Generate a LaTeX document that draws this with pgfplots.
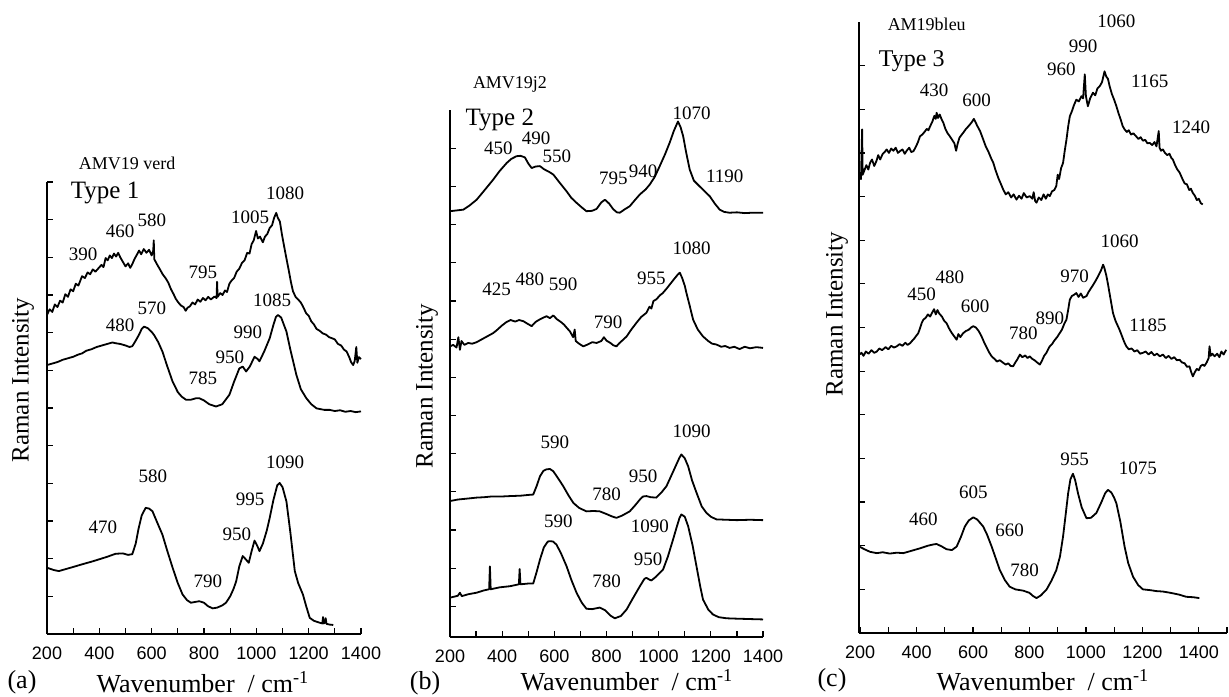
\documentclass[border=0pt]{standalone}
\usepackage{pgfplots}
\pgfplotsset{compat=1.18}
\usepackage{fontspec}
\setmainfont{Liberation Serif}
\setsansfont{Liberation Sans}

\newcommand{\pk}{\fontsize{9.5}{10}\selectfont}
\pgfplotsset{
  raman/.style={
    scale only axis, anchor=south west, clip=false,
    axis x line*=bottom, axis y line*=left,
    tick align=inside,
    xtick={200,400,...,1400}, minor xtick={300,500,...,1300},
    ytick={1,...,13}, yticklabels={},
    major tick length=3pt, minor tick length=3pt,
    tick style={line width=0.6pt, black},
    axis line style={line width=0.8pt},
    xticklabel style={font=\fontsize{9}{9}\selectfont\sffamily, yshift=-3pt},
    /pgf/number format/assume math mode=true,
    /pgf/number format/1000 sep={},
    cycle list={{black, no markers}},
    every axis plot post/.append style={line width=0.9pt, line join=round},
  }
}

\begin{document}
\begin{tikzpicture}
\useasboundingbox (0,0) rectangle (614.5pt,348pt);

% ---------------- (a) ----------------
\begin{axis}[raman, at={(23.5pt,31pt)}, width=157pt, height=226pt,
  xmin=200, xmax=1400, ymin=0, ymax=12]
\addplot coordinates {(200,8.47) (210,8.62) (220,8.55) (230,8.75) (240,8.68) (250,8.85) (260,8.80) (270,9.02) (280,8.95) (290,9.15) (300,9.10) (310,9.30) (320,9.25) (334,9.50) (345,9.45) (355,9.60) (365,9.55) (375,9.68) (385,9.62) (398,9.72) (408,9.80) (416,9.74) (424,9.98) (432,9.92) (440,10.05) (448,9.98) (456,10.10) (464,10.02) (472,10.12) (480,10.0) (490,9.88) (500,9.76) (510,9.84) (518,9.72) (526,9.82) (534,9.95) (542,10.05) (552,10.18) (560,10.08) (570,10.22) (580,10.12) (590,10.20) (600,10.05) (606,10.18) (608,10.45) (610,9.95) (620,9.82) (630,9.70) (642,9.55) (654,9.44) (664,9.32) (674,9.15) (684,9.02) (692,8.90) (702,8.80) (712,8.72) (722,8.68) (730,8.58) (737,8.66) (746,8.70) (756,8.80) (766,8.75) (776,8.88) (786,8.82) (796,8.92) (806,8.86) (816,8.95) (826,8.88) (840,8.96) (848,8.92) (850,9.35) (852,8.95) (862,9.05) (871,9.00) (880,9.12) (888,9.08) (897,9.30) (905,9.38) (915,9.45) (925,9.62) (935,9.70) (945,9.85) (955,9.92) (965,10.12) (974,10.10) (982,10.35) (990,10.45) (999,10.70) (1006,10.50) (1014,10.55) (1025,10.40) (1033,10.55) (1042,10.62) (1051,10.78) (1060,10.85) (1068,11.05) (1076,11.18) (1082,11.05) (1090,10.95) (1098,10.60) (1106,10.30) (1115,9.97) (1124,9.65) (1132,9.35) (1140,9.10) (1150,8.95) (1160,8.88) (1170,8.80) (1178,8.70) (1190,8.52) (1200,8.45) (1210,8.30) (1220,8.22) (1230,8.10) (1242,8.05) (1254,7.98) (1266,7.95) (1278,7.88) (1290,7.85) (1300,7.82) (1312,7.70) (1324,7.66) (1335,7.55) (1345,7.50) (1355,7.35) (1362,7.22) (1370,7.14) (1376,7.25) (1382,7.62) (1386,7.20) (1392,7.35) (1400,7.30)};
\addplot coordinates {(200,7.14) (220,7.18) (240,7.22) (260,7.28) (280,7.32) (300,7.36) (320,7.42) (334,7.45) (350,7.52) (370,7.56) (390,7.62) (410,7.66) (430,7.70) (450,7.74) (462,7.72) (480,7.70) (500,7.66) (515,7.62) (526,7.64) (540,7.80) (552,7.95) (562,8.10) (571,8.16) (585,8.12) (600,8.02) (609,7.94) (625,7.75) (641,7.50) (660,7.10) (680,6.70) (700,6.42) (715,6.30) (731,6.22) (750,6.22) (770,6.26) (782,6.26) (800,6.20) (820,6.10) (846,6.04) (870,6.10) (897,6.35) (915,6.70) (935,7.05) (948,7.10) (961,6.97) (975,7.10) (993,7.36) (1005,7.30) (1012,7.24) (1030,7.50) (1051,7.85) (1065,8.20) (1075,8.42) (1083,8.47) (1095,8.40) (1115,8.03) (1130,7.55) (1153,6.88) (1170,6.50) (1191,6.26) (1210,6.10) (1230,5.99) (1260,5.95) (1280,5.95) (1300,5.92) (1320,5.94) (1340,5.90) (1360,5.92) (1380,5.89) (1400,5.91)};
\addplot coordinates {(200,1.76) (225,1.70) (245,1.67) (270,1.72) (300,1.78) (334,1.85) (370,1.92) (398,1.98) (430,2.05) (462,2.13) (490,2.14) (510,2.10) (526,2.12) (539,2.40) (550,2.80) (562,3.15) (577,3.35) (590,3.33) (603,3.26) (620,2.98) (641,2.64) (660,2.20) (680,1.76) (700,1.35) (718,1.05) (735,0.90) (750,0.83) (765,0.85) (782,0.87) (800,0.83) (815,0.74) (833,0.68) (850,0.70) (870,0.76) (884,0.83) (900,1.00) (913,1.20) (923,1.40) (935,1.80) (948,2.07) (960,1.98) (971,1.89) (982,2.20) (993,2.48) (1003,2.35) (1012,2.20) (1025,2.40) (1040,2.75) (1051,3.08) (1065,3.55) (1080,3.95) (1089,4.01) (1100,3.90) (1115,3.52) (1130,2.70) (1147,1.67) (1160,1.35) (1178,1.05) (1190,0.75) (1204,0.43) (1220,0.35) (1242,0.30) (1252,0.28) (1255,0.45) (1258,0.28) (1262,0.30) (1265,0.42) (1268,0.27) (1280,0.25) (1294,0.24)};
\node[font=\fontsize{9}{9}\selectfont] at (axis cs:506,12.5) {AMV19 verd};
\node[font=\fontsize{12.5}{13}\selectfont] at (axis cs:422,11.7) {Type 1};
\node[font=\pk] at (axis cs:1110,11.7) {1080};
\node[font=\pk] at (axis cs:976,11.07) {1005};
\node[font=\pk] at (axis cs:338,10.07) {390};
\node[font=\pk] at (axis cs:479,10.7) {460};
\node[font=\pk] at (axis cs:601,10.99) {580};
\node[font=\pk] at (axis cs:796,9.59) {795};
\node[font=\pk] at (axis cs:1060,8.87) {1085};
\node[font=\pk] at (axis cs:601,8.64) {570};
\node[font=\pk] at (axis cs:479,8.19) {480};
\node[font=\pk] at (axis cs:968,8.0) {990};
\node[font=\pk] at (axis cs:899,7.34) {950};
\node[font=\pk] at (axis cs:796,6.78) {785};
\node[font=\pk] at (axis cs:1110,4.56) {1090};
\node[font=\pk] at (axis cs:605,4.19) {580};
\node[font=\pk] at (axis cs:976,3.58) {995};
\node[font=\pk] at (axis cs:414,2.83) {470};
\node[font=\pk] at (axis cs:926,2.65) {950};
\node[font=\pk] at (axis cs:815,1.40) {790};
\end{axis}

% ---------------- (b) ----------------
\begin{axis}[raman, at={(225pt,29.5pt)}, width=156.5pt, height=263.5pt,
  xmin=200, xmax=1400, ymin=0.2, ymax=14]
\addplot coordinates {(200,11.35) (225,11.37) (251,11.39) (275,11.50) (302,11.65) (330,11.88) (366,12.18) (390,12.40) (417,12.61) (435,12.72) (455,12.79) (470,12.80) (487,12.76) (500,12.60) (513,12.48) (528,12.52) (545,12.53) (560,12.45) (580,12.38) (596,12.31) (620,12.10) (647,11.87) (665,11.70) (685,11.57) (705,11.45) (723,11.35) (745,11.36) (762,11.41) (780,11.58) (794,11.65) (810,11.55) (826,11.40) (840,11.32) (851,11.31) (870,11.40) (889,11.48) (910,11.65) (928,11.79) (950,11.92) (966,12.05) (985,12.25) (1004,12.53) (1025,12.85) (1042,13.14) (1058,13.45) (1074,13.70) (1084,13.55) (1094,13.31) (1105,12.90) (1119,12.44) (1135,12.15) (1157,12.00) (1175,11.88) (1196,11.74) (1215,11.55) (1234,11.39) (1252,11.33) (1272,11.31) (1300,11.32) (1330,11.30) (1360,11.31) (1400,11.31)};
\addplot coordinates {(200,7.81) (212,7.85) (225,7.78) (232,8.05) (238,7.72) (244,7.95) (255,7.85) (270,7.90) (285,7.88) (302,7.92) (318,7.98) (334,8.04) (350,8.10) (366,8.16) (382,8.25) (398,8.35) (417,8.45) (432,8.50) (450,8.46) (465,8.50) (481,8.47) (498,8.40) (513,8.34) (528,8.45) (545,8.52) (557,8.56) (570,8.60) (583,8.55) (596,8.62) (610,8.52) (625,8.45) (637,8.38) (647,8.30) (660,8.20) (672,8.05) (678,8.25) (682,7.95) (695,7.88) (711,7.81) (728,7.86) (745,7.92) (762,7.90) (780,7.95) (790,8.05) (800,7.96) (815,7.90) (826,7.84) (838,7.81) (850,7.90) (863,7.98) (877,8.07) (895,8.25) (915,8.43) (933,8.58) (953,8.69) (965,8.85) (972,8.80) (980,9.00) (991,9.04) (1005,9.15) (1015,9.20) (1030,9.32) (1045,9.45) (1060,9.58) (1072,9.68) (1081,9.74) (1090,9.60) (1100,9.40) (1106,9.22) (1118,8.90) (1132,8.51) (1150,8.25) (1170,8.07) (1190,7.95) (1205,7.88) (1221,7.86) (1240,7.80) (1255,7.82) (1272,7.77) (1290,7.80) (1310,7.74) (1330,7.80) (1350,7.76) (1375,7.79) (1400,7.77)};
\addplot coordinates {(200,3.76) (230,3.80) (260,3.82) (302,3.85) (330,3.86) (360,3.88) (400,3.88) (430,3.89) (470,3.90) (500,3.92) (519,3.93) (532,4.15) (545,4.41) (558,4.55) (570,4.59) (583,4.60) (596,4.54) (615,4.35) (634,4.15) (655,3.90) (673,3.71) (695,3.58) (723,3.49) (750,3.50) (774,3.49) (800,3.42) (820,3.36) (838,3.32) (860,3.38) (889,3.49) (910,3.65) (928,3.80) (940,3.88) (953,3.89) (970,3.86) (991,3.85) (1010,3.98) (1030,4.15) (1050,4.45) (1068,4.72) (1080,4.90) (1087,4.98) (1100,4.88) (1113,4.67) (1128,4.30) (1145,3.98) (1165,3.62) (1183,3.45) (1200,3.35) (1221,3.28) (1260,3.27) (1300,3.26) (1350,3.27) (1400,3.26)};
\addplot coordinates {(200,1.23) (230,1.28) (238,1.36) (245,1.27) (270,1.32) (302,1.36) (330,1.42) (350,1.45) (353,2.05) (356,1.45) (390,1.50) (430,1.53) (464,1.58) (467,1.98) (470,1.58) (500,1.60) (519,1.60) (532,1.90) (545,2.23) (560,2.55) (575,2.70) (583,2.71) (595,2.70) (608,2.62) (625,2.40) (647,2.05) (665,1.70) (685,1.36) (705,1.10) (723,0.94) (745,0.93) (774,0.97) (795,0.90) (815,0.76) (832,0.69) (855,0.75) (877,0.92) (900,1.20) (928,1.53) (945,1.72) (953,1.75) (965,1.70) (972,1.68) (990,1.78) (1017,1.97) (1035,2.30) (1055,2.75) (1070,3.10) (1080,3.32) (1087,3.41) (1100,3.35) (1113,3.10) (1130,2.60) (1145,2.05) (1160,1.50) (1170,1.18) (1190,0.92) (1208,0.79) (1230,0.72) (1260,0.69) (1300,0.68) (1350,0.67) (1400,0.66)};
\node[font=\fontsize{9}{9}\selectfont] at (axis cs:430,14.66) {AMV19j2};
\node[font=\fontsize{12.5}{13}\selectfont] at (axis cs:391,13.75) {Type 2};
\node[font=\pk] at (axis cs:1126,13.92) {1070};
\node[font=\pk] at (axis cs:385,13.0) {450};
\node[font=\pk] at (axis cs:530,13.25) {490};
\node[font=\pk] at (axis cs:610,12.80) {550};
\node[font=\pk] at (axis cs:826,12.22) {795};
\node[font=\pk] at (axis cs:940,12.40) {940};
\node[font=\pk] at (axis cs:1253,12.26) {1190};
\node[font=\pk] at (axis cs:1126,10.39) {1080};
\node[font=\pk] at (axis cs:972,9.60) {955};
\node[font=\pk] at (axis cs:379,9.30) {425};
\node[font=\pk] at (axis cs:506,9.56) {480};
\node[font=\pk] at (axis cs:634,9.43) {590};
\node[font=\pk] at (axis cs:806,8.43) {790};
\node[font=\pk] at (axis cs:1126,5.59) {1090};
\node[font=\pk] at (axis cs:602,5.29) {590};
\node[font=\pk] at (axis cs:940,4.41) {950};
\node[font=\pk] at (axis cs:800,3.93) {780};
\node[font=\pk] at (axis cs:615,3.23) {590};
\node[font=\pk] at (axis cs:966,3.10) {1090};
\node[font=\pk] at (axis cs:960,2.23) {950};
\node[font=\pk] at (axis cs:800,1.66) {780};
\end{axis}

% ---------------- (c) ----------------
\begin{axis}[raman, at={(429.5pt,31.5pt)}, width=184pt, height=305.5pt,
  xmin=196, xmax=1500, ymin=0, ymax=14, minor xtick={300,500,...,1500}]
\addplot coordinates {(197,10.47) (203,10.40) (207,11.54) (209,10.50) (215,10.60) (222,10.72) (229,10.62) (235,10.77) (242,10.85) (250,10.70) (258,10.82) (264,10.95) (271,10.85) (280,10.98) (287,11.02) (294,11.08) (302,11.00) (310,11.10) (318,11.05) (326,11.12) (334,11.00) (341,11.04) (350,11.08) (358,10.98) (366,11.06) (374,11.12) (381,11.02) (389,11.04) (398,11.15) (405,11.25) (412,11.38) (420,11.42) (428,11.48) (436,11.55) (442,11.52) (448,11.61) (456,11.72) (463,11.85) (468,11.78) (471,11.92) (476,11.80) (482,11.88) (490,11.75) (495,11.69) (502,11.55) (510,11.45) (518,11.38) (526,11.30) (534,11.22) (540,11.05) (545,11.20) (552,11.35) (560,11.42) (565,11.46) (575,11.55) (585,11.62) (595,11.70) (603,11.78) (607,11.73) (615,11.62) (625,11.50) (636,11.31) (645,11.15) (655,11.02) (664,10.88) (672,10.77) (680,10.60) (690,10.42) (698,10.30) (707,10.16) (716,10.05) (725,10.10) (735,9.98) (744,10.05) (754,9.93) (763,10.02) (772,9.95) (780,10.08) (790,9.98) (801,10.01) (810,9.95) (815,10.10) (820,9.90) (825,9.86) (833,9.98) (842,9.92) (850,10.05) (858,9.95) (865,10.05) (872,10.01) (880,10.12) (888,10.15) (895,10.24) (900,10.50) (905,10.40) (912,10.65) (919,10.77) (925,11.05) (931,11.30) (937,11.60) (943,11.84) (950,11.95) (958,12.10) (966,12.22) (975,12.18) (984,12.30) (990,12.25) (996,12.80) (1000,12.30) (1007,12.07) (1015,12.25) (1025,12.38) (1033,12.32) (1041,12.48) (1049,12.53) (1057,12.62) (1066,12.87) (1072,12.75) (1078,12.70) (1084,12.53) (1092,12.35) (1100,12.22) (1108,12.07) (1116,11.90) (1124,11.75) (1130,11.62) (1137,11.54) (1145,11.48) (1152,11.52) (1160,11.42) (1168,11.45) (1178,11.38) (1186,11.32) (1194,11.36) (1202,11.28) (1210,11.30) (1218,11.22) (1226,11.23) (1235,11.18) (1243,11.25) (1250,11.15) (1258,11.50) (1261,11.12) (1266,11.05) (1273,11.08) (1280,11.00) (1288,10.95) (1296,10.98) (1303,10.88) (1308,10.85) (1316,10.72) (1324,10.62) (1332,10.55) (1343,10.39) (1350,10.30) (1358,10.28) (1366,10.15) (1372,10.18) (1379,10.08) (1386,10.02) (1393,9.92) (1400,9.95) (1407,9.85) (1414,9.82)};
\addplot coordinates {(197,6.38) (205,6.42) (212,6.35) (220,6.45) (230,6.40) (240,6.48) (250,6.42) (259,6.45) (268,6.52) (278,6.48) (290,6.55) (300,6.50) (310,6.58) (320,6.54) (330,6.57) (340,6.62) (350,6.58) (360,6.65) (368,6.60) (377,6.64) (385,6.70) (392,6.75) (400,6.82) (406,6.87) (413,7.00) (418,7.10) (424,7.18) (432,7.22) (440,7.30) (448,7.25) (456,7.35) (462,7.42) (468,7.30) (474,7.40) (480,7.32) (490,7.25) (498,7.15) (506,7.10) (515,6.98) (524,6.88) (533,6.80) (542,6.72) (548,6.85) (555,6.78) (565,6.87) (575,6.92) (585,6.95) (593,7.00) (601,7.03) (610,7.00) (620,6.92) (630,6.80) (640,6.65) (650,6.52) (658,6.42) (666,6.34) (676,6.28) (685,6.22) (695,6.25) (707,6.19) (716,6.15) (725,6.18) (733,6.12) (742,6.11) (750,6.20) (758,6.28) (766,6.38) (775,6.32) (785,6.36) (793,6.30) (801,6.34) (810,6.28) (818,6.25) (827,6.20) (837,6.15) (845,6.25) (852,6.35) (860,6.42) (866,6.50) (872,6.57) (880,6.62) (888,6.70) (898,6.78) (907,6.87) (915,6.95) (923,7.08) (931,7.18) (937,7.40) (943,7.64) (950,7.72) (958,7.75) (966,7.79) (974,7.70) (982,7.78) (990,7.68) (1002,7.72) (1010,7.82) (1018,7.90) (1026,7.98) (1037,8.10) (1045,8.20) (1053,8.30) (1061,8.44) (1066,8.35) (1072,8.20) (1078,8.00) (1086,7.70) (1096,7.33) (1105,7.15) (1112,7.05) (1119,6.95) (1128,6.80) (1135,6.68) (1143,6.57) (1152,6.50) (1162,6.52) (1172,6.45) (1182,6.48) (1192,6.40) (1202,6.42) (1212,6.45) (1222,6.38) (1232,6.44) (1242,6.36) (1252,6.40) (1262,6.34) (1273,6.38) (1283,6.30) (1293,6.35) (1303,6.28) (1313,6.32) (1322,6.25) (1332,6.26) (1340,6.20) (1350,6.18) (1358,6.10) (1367,6.11) (1373,5.98) (1379,5.88) (1386,5.98) (1393,6.05) (1400,6.02) (1407,6.12) (1414,6.15) (1420,6.12) (1428,6.20) (1435,6.30) (1438,6.57) (1442,6.35) (1448,6.40) (1456,6.34) (1465,6.40) (1473,6.32) (1480,6.45) (1488,6.38) (1497,6.49)};
\addplot coordinates {(197,1.98) (215,1.92) (235,1.86) (259,1.83) (280,1.85) (305,1.82) (330,1.84) (353,1.83) (380,1.88) (412,1.94) (440,2.00) (460,2.03) (471,2.04) (490,1.98) (506,1.92) (525,1.90) (542,1.98) (557,2.20) (571,2.44) (585,2.58) (601,2.65) (615,2.60) (636,2.44) (650,2.25) (666,1.98) (680,1.72) (695,1.44) (712,1.22) (730,1.06) (750,1.00) (778,0.97) (800,0.92) (812,0.85) (825,0.80) (840,0.86) (860,0.99) (878,1.20) (895,1.44) (908,1.75) (919,2.21) (928,2.70) (937,3.20) (945,3.52) (954,3.65) (962,3.50) (972,3.20) (985,2.88) (1002,2.63) (1018,2.64) (1037,2.75) (1055,3.00) (1068,3.20) (1078,3.28) (1090,3.22) (1100,3.10) (1108,2.97) (1122,2.55) (1137,1.98) (1150,1.60) (1167,1.29) (1185,1.10) (1202,1.00) (1230,0.98) (1250,0.96) (1273,0.95) (1300,0.92) (1330,0.88) (1355,0.83) (1380,0.82) (1402,0.80)};
\node[font=\fontsize{9}{9}\selectfont] at (axis cs:436,13.94) {AM19bleu};
\node[font=\fontsize{12}{12}\selectfont] at (axis cs:383,13.1) {Type 3};
\node[font=\pk] at (axis cs:1108,14.02) {1060};
\node[font=\pk] at (axis cs:990,13.45) {990};
\node[font=\pk] at (axis cs:913,12.91) {960};
\node[font=\pk] at (axis cs:1226,12.64) {1165};
\node[font=\pk] at (axis cs:1373,11.58) {1240};
\node[font=\pk] at (axis cs:462,12.44) {430};
\node[font=\pk] at (axis cs:613,12.21) {600};
\node[font=\pk] at (axis cs:1119,8.97) {1060};
\node[font=\pk] at (axis cs:960,8.17) {970};
\node[font=\pk] at (axis cs:518,8.14) {480};
\node[font=\pk] at (axis cs:418,7.75) {450};
\node[font=\pk] at (axis cs:607,7.48) {600};
\node[font=\pk] at (axis cs:778,6.87) {780};
\node[font=\pk] at (axis cs:872,7.22) {890};
\node[font=\pk] at (axis cs:1220,7.06) {1185};
\node[font=\pk] at (axis cs:960,3.97) {955};
\node[font=\pk] at (axis cs:1184,3.78) {1075};
\node[font=\pk] at (axis cs:601,3.22) {605};
\node[font=\pk] at (axis cs:424,2.61) {460};
\node[font=\pk] at (axis cs:730,2.35) {660};
\node[font=\pk] at (axis cs:783,1.44) {780};
\end{axis}

% panel letters, axis titles
\begin{scope}[every node/.style={inner sep=0pt, font=\fontsize{13}{13}\selectfont}]
\node at (11pt,7pt) {(a)};
\node at (101.5pt,7pt) {Wavenumber\ \ / cm\textsuperscript{-1}};
\node at (212.5pt,6.5pt) {(b)};
\node at (313.5pt,8pt) {Wavenumber\ \ / cm\textsuperscript{-1}};
\node at (416pt,8pt) {(c)};
\node at (521.5pt,8pt) {Wavenumber\ \ / cm\textsuperscript{-1}};
\node[rotate=90, font=\fontsize{12.5}{13}\selectfont] at (11.5pt,158pt) {Raman Intensity};
\node[rotate=90, font=\fontsize{12.5}{13}\selectfont] at (213.5pt,155pt) {Raman Intensity};
\node[rotate=90, font=\fontsize{12.5}{13}\selectfont] at (418.5pt,191pt) {Raman Intensity};
\end{scope}
\end{tikzpicture}
\end{document}
